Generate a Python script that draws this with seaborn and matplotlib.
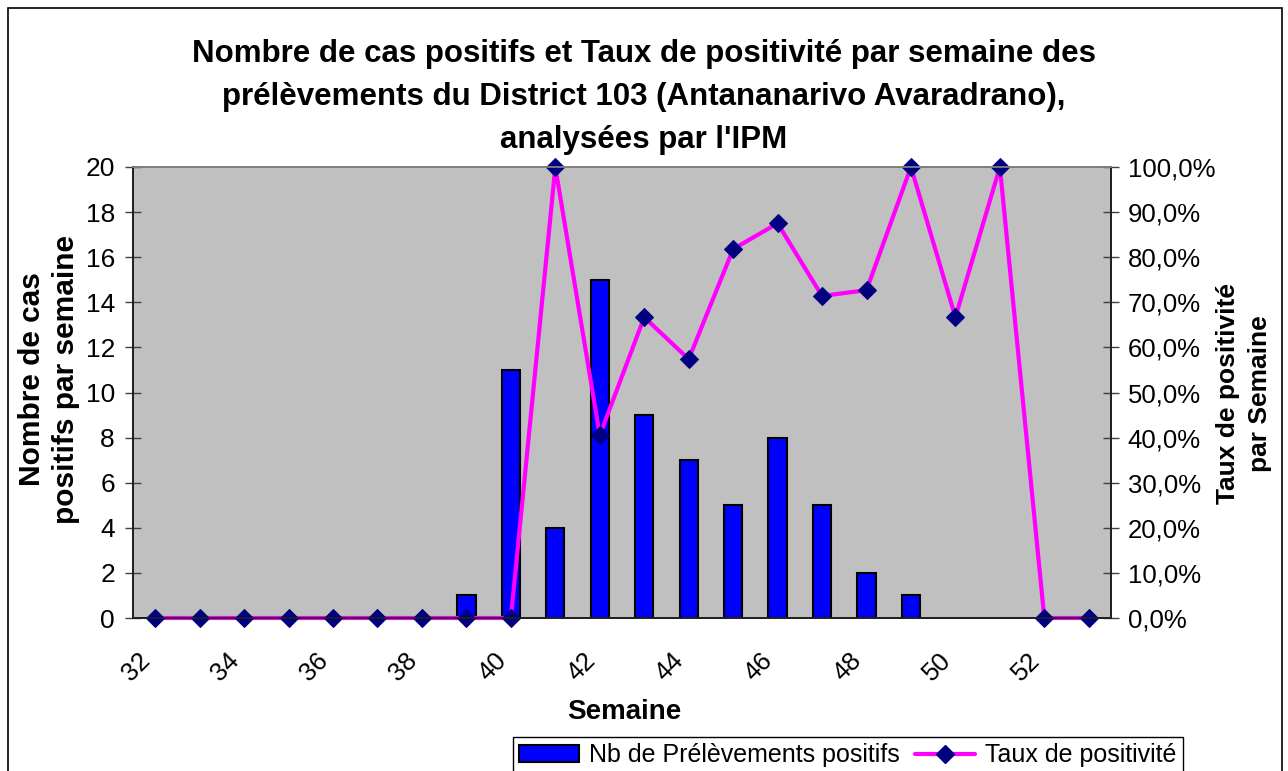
import matplotlib.pyplot as plt
import matplotlib.patches as mpatches
import numpy as np
import pandas as pd
import seaborn as sns
from matplotlib.lines import Line2D
from matplotlib.ticker import FuncFormatter

WEEKS = list(range(32, 54))
POSITIFS = [0, 0, 0, 0, 0, 0, 0, 1, 11, 4, 15, 9, 7, 5, 8, 5, 2, 1, 0, 0, 0, 0]
TAUX = [0, 0, 0, 0, 0, 0, 0, 0, 0, 1.0, 0.405, 0.667, 0.574, 0.818, 0.875,
        0.714, 0.727, 1.0, 0.667, 1.0, 0, 0]
XLABELS = [str(w) for w in WEEKS[::2]]

TITLE = ("Nombre de cas positifs et Taux de positivité par semaine des\n"
         "prélèvements du District 103 (Antananarivo Avaradrano),\n"
         "analysées par l'IPM")

W, H = 1288, 771


def pct(v, _):
    return f"{v * 100:.1f}%".replace(".", ",")


def main():
    df = pd.DataFrame({"semaine": [str(w) for w in WEEKS],
                       "positifs": POSITIFS, "taux": TAUX})
    df["pos"] = df.index

    sns.set_style("white")
    plt.rcParams["font.family"] = ["Liberation Sans", "DejaVu Sans"]
    plt.rcParams.update({"text.color": "black", "axes.labelcolor": "black",
                         "xtick.color": "black", "ytick.color": "black"})

    fig = plt.figure(figsize=(W / 100, H / 100), dpi=100)
    ax = fig.add_axes([133 / W, 153 / H, 978 / W, 451 / H])
    ax.set_facecolor("#C0C0C0")

    sns.barplot(data=df, x="semaine", y="positifs", color="#0000FF",
                saturation=1, width=0.41, edgecolor="black", linewidth=1.5,
                errorbar=None, ax=ax)
    # Excel draws nothing for empty weeks
    for p in ax.patches:
        if p.get_height() == 0:
            p.set_visible(False)

    ax2 = ax.twinx()
    sns.lineplot(data=df, x="pos", y="taux", color="#FF00FF", lw=3,
                 marker="D", ms=9.5, mfc="#000080", mec="#000080",
                 clip_on=False, legend=False, ax=ax2)

    ax.set_xlim(-0.5, len(WEEKS) - 0.5)
    ax.set_ylim(0, 20)
    ax.set_yticks(range(0, 21, 2))
    ax2.set_ylim(0, 1)
    ax2.set_yticks(np.linspace(0, 1, 11))
    ax2.yaxis.set_major_formatter(FuncFormatter(pct))

    ax.set_xticks(df["pos"][::2], XLABELS)
    ax.set_xticks(np.arange(-0.5, len(WEEKS), 1), minor=True)
    for lab in ax.get_xticklabels():
        lab.set_rotation(45)
        lab.set_ha("right")
    ax.tick_params(axis="x", which="major", length=0, pad=22, labelsize=18.5,
                   labelcolor="black")
    ax.tick_params(axis="x", which="minor", direction="inout", length=12,
                   width=1, color="#404040")
    ax.tick_params(axis="y", direction="inout", length=12, width=1,
                   color="#404040", labelsize=19, pad=7, labelcolor="black")
    ax2.tick_params(axis="y", direction="inout", length=12, width=1,
                    color="#404040", labelsize=18.5, pad=6, labelcolor="black")

    ax.set_xlabel("")
    ax.set_ylabel("")
    ax2.set_xlabel("")
    ax2.set_ylabel("")

    for a in (ax, ax2):
        for side in ("left", "right", "bottom"):
            a.spines[side].set_color("#202020")
            a.spines[side].set_linewidth(1.3)
        a.spines["top"].set_color("#808080")
        a.spines["top"].set_linewidth(1.3)

    fig.text(0.5, 1 - 97 / H, TITLE, ha="center", va="center", fontsize=22.5,
             fontweight="bold", linespacing=1.55, color="black")
    fig.text(624 / W, 1 - 712 / H, "Semaine", ha="center", va="center",
             fontsize=20, fontweight="bold", color="black")
    fig.text(49 / W, 1 - 379 / H, "Nombre de cas\npositifs par semaine",
             ha="center", va="center", rotation=90, fontsize=21.5,
             fontweight="bold", linespacing=1.25, color="black")
    fig.text(1244 / W, 1 - 394 / H, "Taux de positivité\npar Semaine",
             ha="center", va="center", rotation=90, fontsize=19,
             fontweight="bold", linespacing=1.45, color="black")

    handles = [
        mpatches.Patch(facecolor="#0000FF", edgecolor="black", linewidth=1.5),
        Line2D([], [], color="#FF00FF", lw=3, marker="D", ms=9.5,
               mfc="#000080", mec="#000080"),
    ]
    leg = fig.legend(handles, ["Nb de Prélèvements positifs", "Taux de positivité"],
                     loc="upper left", bbox_to_anchor=(513 / W, 1 - 737 / H),
                     ncol=2, fontsize=18, frameon=True, fancybox=False,
                     edgecolor="black", framealpha=1, borderaxespad=0,
                     handlelength=2.4, handletextpad=0.4, columnspacing=0.6,
                     borderpad=0.25)
    leg.get_frame().set_linewidth(1)

    fig.add_artist(mpatches.Rectangle((8 / W, -0.1), (1282 - 8) / W,
                                      1.1 - 8 / H, transform=fig.transFigure,
                                      fill=False, edgecolor="black", lw=1.2))

    fig.savefig("out.png", dpi=100)


if __name__ == "__main__":
    main()
